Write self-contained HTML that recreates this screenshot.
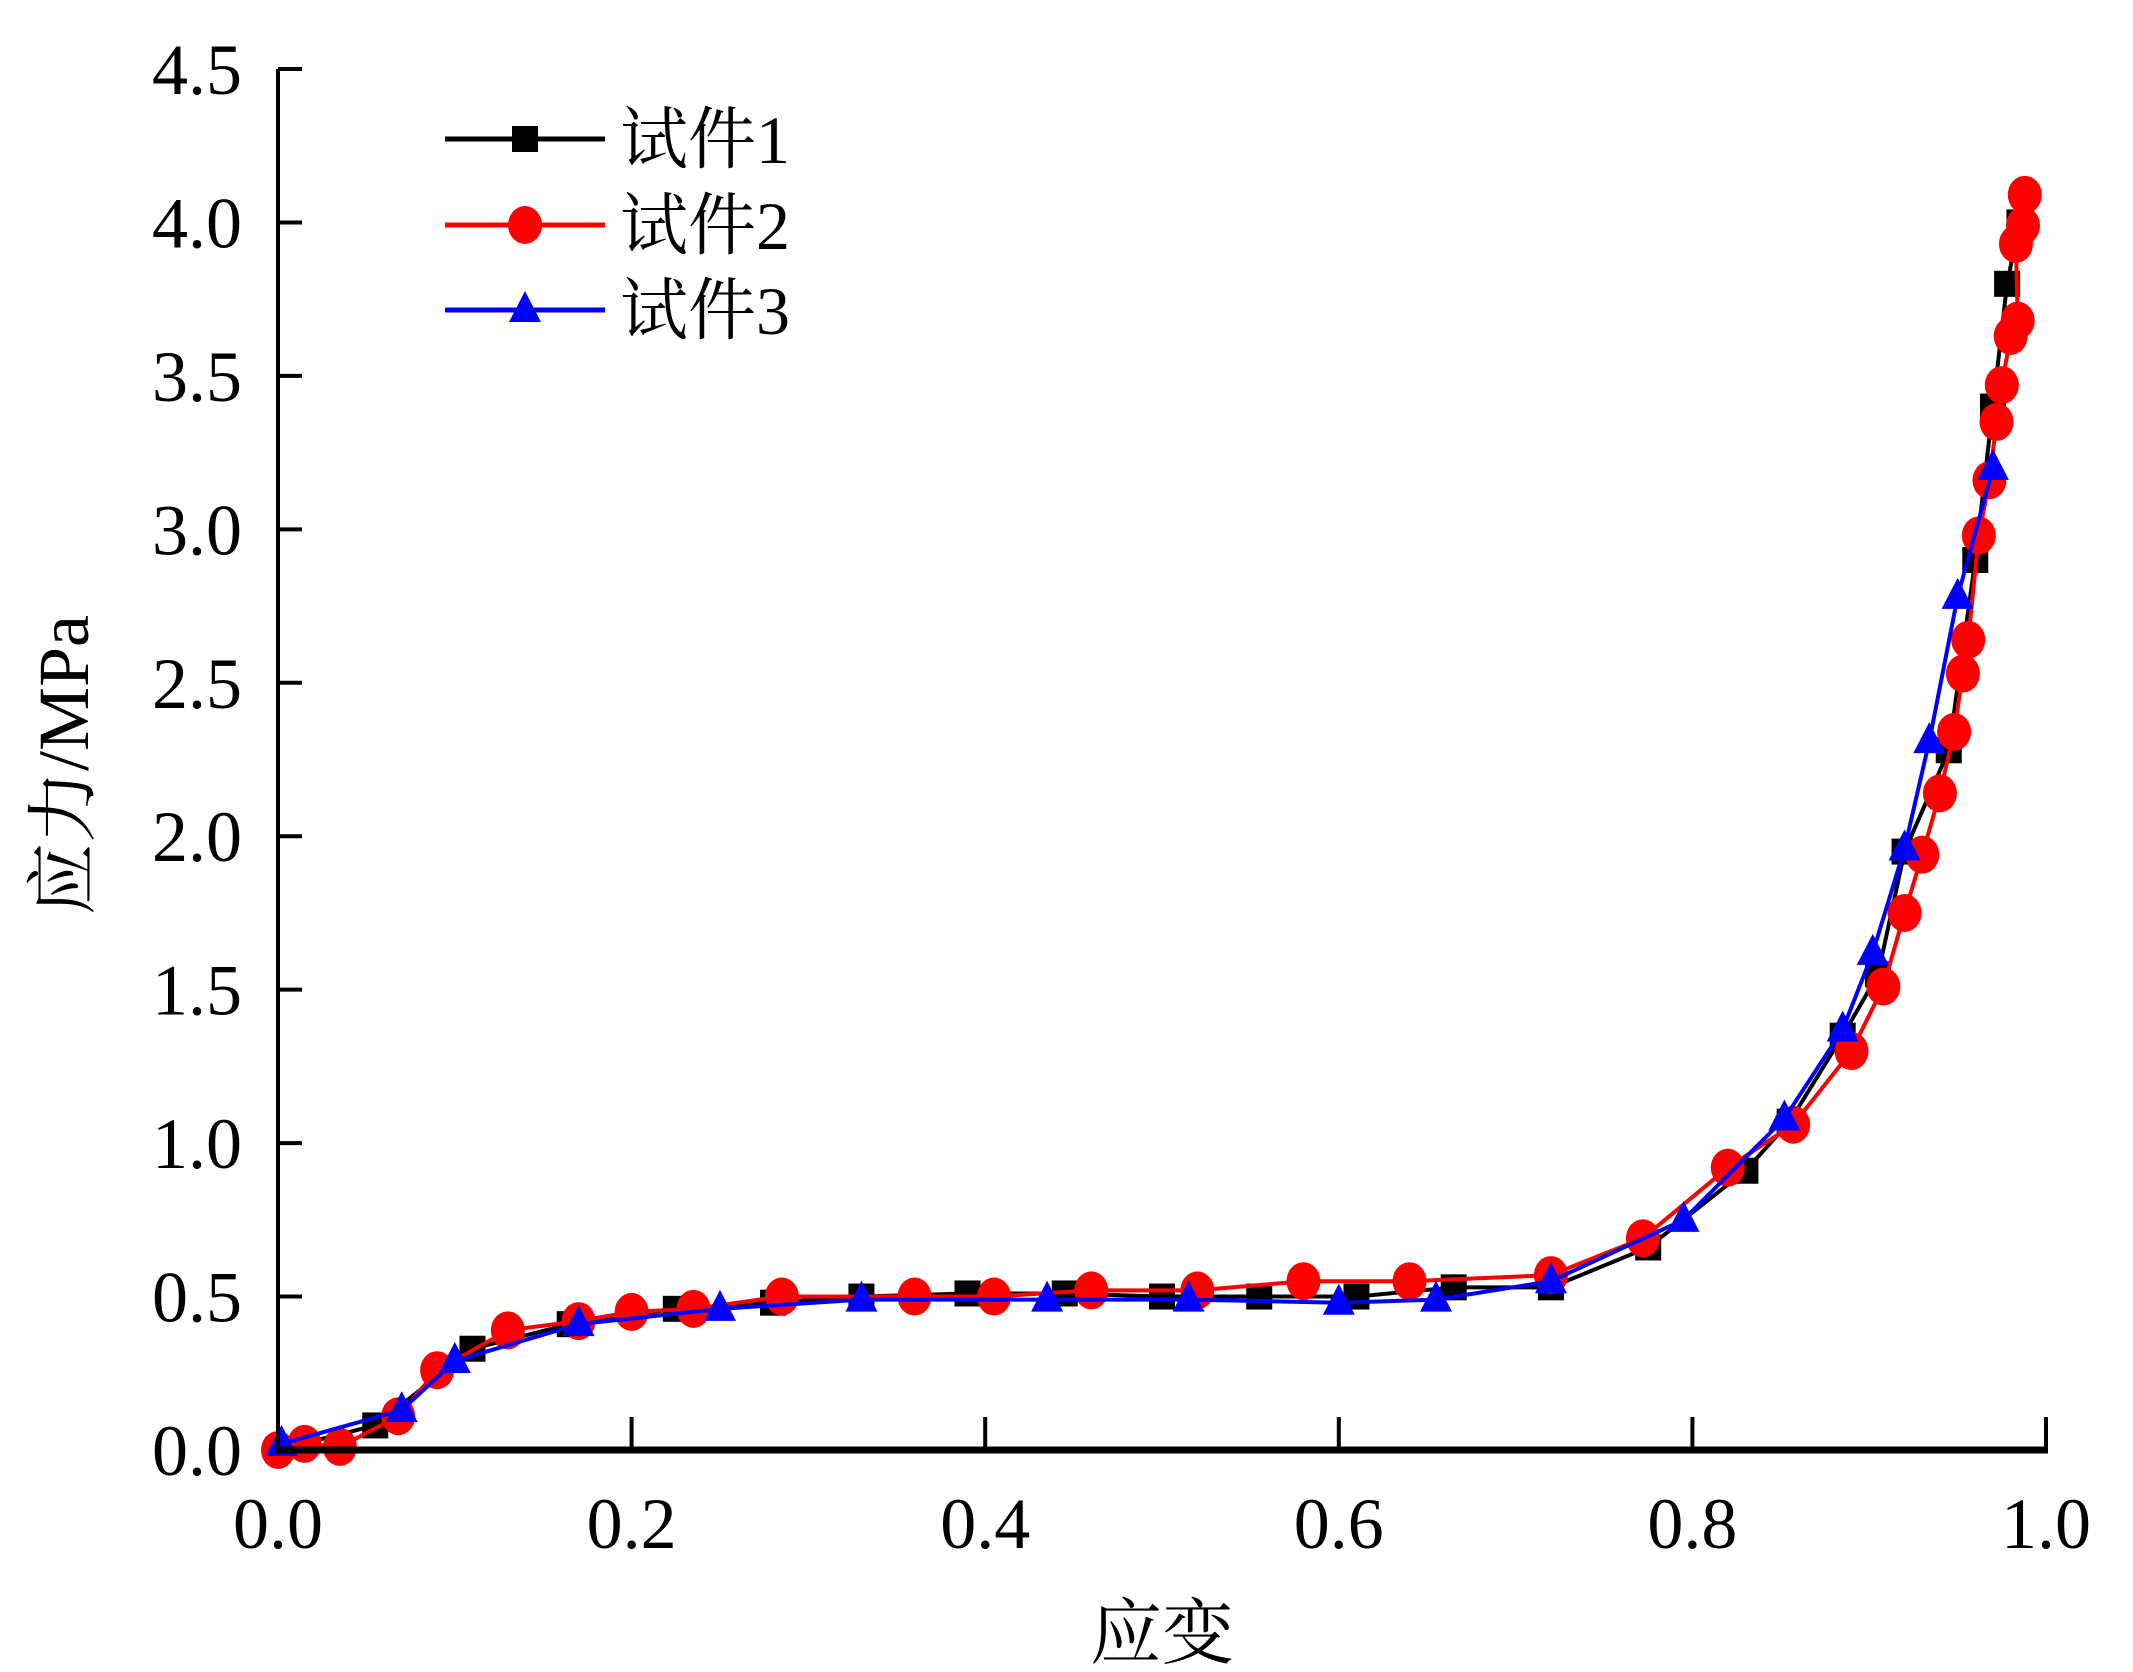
<!DOCTYPE html>
<html><head><meta charset="utf-8"><style>
html,body{margin:0;padding:0;background:#fff;}
svg{display:block;}
text{font-family:"Liberation Serif","Noto Serif CJK SC","Noto Sans CJK SC",serif;fill:#000;}
</style></head><body>
<svg id="chart" width="2133" height="1672" viewBox="0 0 2133 1672" xmlns="http://www.w3.org/2000/svg">
<g id="plot"></g>
<g id="axes"></g>
<text x="1162" y="1658" font-size="72" text-anchor="middle">应变</text>
<text transform="translate(88,765) rotate(-90)" font-size="72" text-anchor="middle">应力/MPa</text>
<g id="legend"></g>
</svg>
<script>
const xTicks=[0,0.2,0.4,0.6,0.8,1.0];
const xTickLabels=["0.0","0.2","0.4","0.6","0.8","1.0"];
const yTicks=[0,0.5,1,1.5,2,2.5,3,3.5,4,4.5];
const yTickLabels=["0.0","0.5","1.0","1.5","2.0","2.5","3.0","3.5","4.0","4.5"];
const seriesNames=["试件1","试件2","试件3"];
const s1x=[0.0,0.055,0.11,0.165,0.225,0.28,0.33,0.39,0.445,0.5,0.555,0.61,0.665,0.72,0.775,0.83,0.855,0.885,0.905,0.92,0.945,0.96,0.97,0.978,0.985];
const s1y=[0.0,0.08,0.33,0.41,0.46,0.48,0.5,0.51,0.51,0.5,0.5,0.5,0.53,0.53,0.66,0.91,1.07,1.35,1.55,1.95,2.28,2.9,3.4,3.8,4.0];
const s2x=[0,0.015,0.035,0.068,0.09,0.13,0.17,0.2,0.235,0.285,0.36,0.405,0.46,0.52,0.58,0.64,0.72,0.772,0.82,0.857,0.89,0.908,0.92,0.93,0.94,0.948,0.953,0.956,0.962,0.968,0.972,0.975,0.98,0.984,0.983,0.987,0.988];
const s2y=[0,0.02,0.01,0.11,0.26,0.39,0.42,0.45,0.46,0.5,0.5,0.5,0.52,0.52,0.55,0.55,0.57,0.69,0.92,1.06,1.3,1.51,1.75,1.94,2.14,2.34,2.53,2.64,2.98,3.16,3.35,3.47,3.63,3.68,3.93,3.99,4.09];
const s3x=[0.002,0.07,0.1,0.17,0.25,0.33,0.435,0.515,0.6,0.655,0.72,0.795,0.852,0.885,0.902,0.92,0.934,0.95,0.97];
const s3y=[0.02,0.13,0.29,0.41,0.46,0.49,0.49,0.49,0.48,0.49,0.55,0.75,1.08,1.37,1.62,1.96,2.31,2.78,3.2];

const NS="http://www.w3.org/2000/svg";
const X0=278,X1=2046,Y0=1450,Y1=69;
const xs=v=>X0+(X1-X0)*v;
const ys=v=>Y0-(Y0-Y1)*v/4.5;
function mk(tag,attrs,parent){const e=document.createElementNS(NS,tag);for(const k in attrs)e.setAttribute(k,attrs[k]);parent.appendChild(e);return e;}
const plot=document.getElementById('plot'),axes=document.getElementById('axes'),legend=document.getElementById('legend');

let a=mk('line',{x1:X0,y1:Y0,x2:X0,y2:Y1,stroke:'#000','stroke-width':4},axes);


a=mk('line',{x1:X0-2,y1:Y0,x2:X1+2,y2:Y0,stroke:'#000','stroke-width':7},axes);


xTicks.forEach((v,i)=>{
  const t=mk('line',{x1:xs(v),y1:Y0,x2:xs(v),y2:Y0-33,stroke:'#000','stroke-width':4},axes);
  
  
  const l=mk('text',{x:xs(v),y:1548,'font-size':72,'text-anchor':'middle'},axes);
  l.textContent=xTickLabels[i];
  
  
});
yTicks.forEach((v,i)=>{
  const t=mk('line',{x1:X0,y1:ys(v),x2:X0+24,y2:ys(v),stroke:'#000','stroke-width':4},axes);
  
  
  const l=mk('text',{x:242,y:ys(v)+25,'font-size':72,'text-anchor':'end'},axes);
  l.textContent=yTickLabels[i];
  
  
});

function marker(type,cx,cy,color,parent){
  let m;
  if(type==='sq') m=mk('rect',{x:cx-13,y:cy-13,width:26,height:26,fill:color},parent);
  else if(type==='ci') m=mk('ellipse',{cx:cx,cy:cy,rx:17,ry:19,fill:color},parent);
  else m=mk('polygon',{points:`${cx},${cy-19} ${cx-16},${cy+12} ${cx+16},${cy+12}`,fill:color},parent);
  return m;
}
function drawSeries(xv,yv,color,type,name){
  const g=mk('g',{},plot);
  
  
  const pts=xv.map((x,i)=>xs(x)+','+ys(yv[i])).join(' ');
  const pl=mk('polyline',{points:pts,fill:'none',stroke:color,'stroke-width':4,'stroke-linejoin':'round'},g);
  
  
  xv.forEach((x,i)=>{
    const m=marker(type,xs(x),ys(yv[i]),color,g);
    
    
  });
}
drawSeries(s1x,s1y,'#000','sq','series-1');
drawSeries(s2x,s2y,'#f00','ci','series-2');
drawSeries(s3x,s3y,'#00f','tr','series-3');

const lc=['#000','#f00','#00f'],lt=['sq','ci','tr'],ly=[139,225,310];
seriesNames.forEach((n,i)=>{
  const g=mk('g',{},legend);
  
  
  mk('line',{x1:445,y1:ly[i],x2:605,y2:ly[i],stroke:lc[i],'stroke-width':5},g);
  marker(lt[i],525,ly[i],lc[i],g);
  const t=mk('text',{x:620,y:ly[i]+24,'font-size':68},g);
  t.textContent=n;
});
</script>
</body></html>
